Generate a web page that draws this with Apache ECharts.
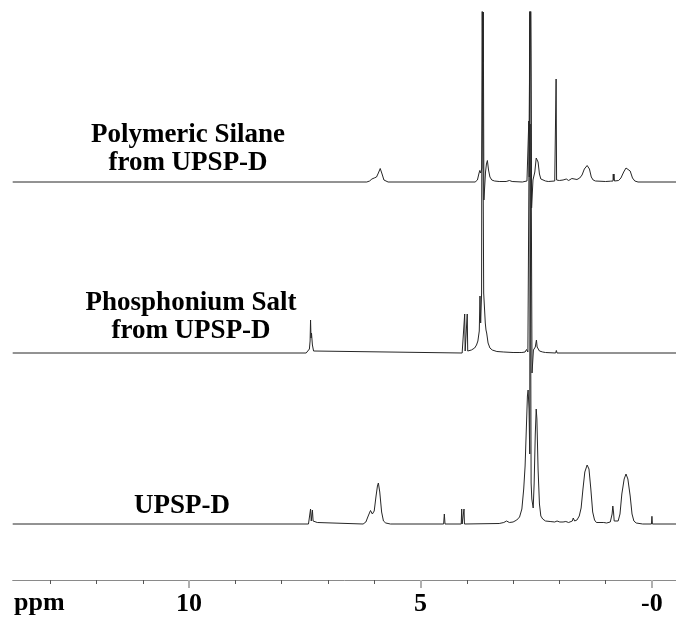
<!DOCTYPE html>
<html>
<head>
<meta charset="utf-8">
<script src="https://cdn.jsdelivr.net/npm/echarts@6/dist/echarts.min.js"></script>
<style>html,body{margin:0;padding:0;background:#fff;}#c{width:676px;height:617px;}</style>
</head>
<body>
<div id="c"></div>
<script>
// ---- data (ppm, intensity above own baseline) ----
const ppmRange = [-0.52, 13.81];
const majorTicks = [0, 5, 10];
const minorTicks = [1, 2, 3, 4, 6, 7, 8, 9, 11, 12, 13];
const tickLabels = {0: '-0', 5: '5', 10: '10'};
const axisUnit = 'ppm';
const traceNames = ['Polymeric Silane\nfrom UPSP-D', 'Phosphonium Salt\nfrom UPSP-D', 'UPSP-D'];

const silaneTrace = [
  [13.81,0],[6.16,0],[6.10,1],[6.05,3],[6.00,4],[5.95,5],[5.91,9],[5.87,13.5],[5.83,8],[5.79,2],[5.75,0.5],[5.70,0],
  [3.82,0],[3.77,2],[3.74,8],[3.72,11.5],[3.70,9],[3.675,14],[3.665,60],[3.655,170],[3.65,120],[3.643,170],[3.63,-18],[3.615,-18],
  [3.595,10],[3.575,18],[3.555,21.5],[3.53,12],[3.50,5],[3.46,2],[3.40,1],[3.30,0.5],[3.15,0.5],[3.08,1.5],[3.02,0.5],
  [2.80,0],[2.70,1],[2.67,3],[2.66,61],[2.65,5],[2.64,3],[2.632,400],[2.615,400],[2.60,-26],[2.585,-26],[2.57,2],
  [2.53,10],[2.50,24],[2.48,26],[2.46,20],[2.43,8],[2.40,3],[2.36,1],[2.30,1],[2.27,2.5],[2.24,0.5],[2.10,1],
  [2.075,2],[2.07,103],[2.06,2],[2.00,1.5],[1.92,2],[1.88,4],[1.85,3],[1.80,1.5],[1.76,2.5],[1.73,3.5],[1.70,2],
  [1.62,2.5],[1.56,4],[1.51,7],[1.46,13],[1.40,16.5],[1.35,13],[1.31,5],[1.27,2],[1.22,1],[1.00,0.5],[0.90,0.8],
  [0.84,1],[0.835,8],[0.83,2],[0.82,8],[0.81,1],[0.72,1.5],[0.67,4],[0.61,10],[0.56,14],[0.52,15],[0.47,11],
  [0.42,4],[0.37,1],[0.30,0],[-0.52,0]
];

const phosphoniumTrace = [
  [13.81,0],[7.47,0],[7.43,1],[7.40,4],[7.385,12],[7.375,33],[7.365,15],[7.355,20],[7.345,19],[7.335,8],[7.31,2],[7.28,0],
  [4.10,0],[4.06,1],[4.045,39],[4.035,2],[4.00,2],[3.99,39],[3.98,2],[3.90,3],[3.83,5],[3.79,8],[3.76,12],[3.73,22],
  [3.715,57],[3.70,30],[3.68,60],[3.668,400],[3.65,400],[3.635,60],[3.60,30],[3.585,23],[3.57,20],[3.54,10],[3.50,5],
  [3.45,3],[3.35,1.5],[3.20,1],[3.00,0.5],[2.87,0.5],[2.84,2.5],[2.81,0.5],[2.74,1],[2.71,3.5],[2.68,1],[2.64,2],
  [2.628,400],[2.607,400],[2.59,-20],[2.575,-20],[2.56,3],[2.52,6],[2.495,13],[2.48,6],[2.43,2],[2.39,3.5],[2.36,1],
  [2.33,2.5],[2.30,0.5],[2.08,0],[2.065,2.5],[2.05,0],[-0.52,0]
];

const upspTrace = [
  [13.81,0],[7.42,0],[7.39,2],[7.375,15],[7.36,3],[7.35,4],[7.335,14],[7.32,3],[7.30,1],[7.23,1.5],[7.20,0],
  [6.24,0],[6.18,2],[6.13,8],[6.08,13.5],[6.04,10],[6.00,13],[5.96,28],[5.93,38],[5.91,41],[5.88,32],[5.84,12],
  [5.80,3],[5.75,1],[5.65,0],[4.50,0],[4.485,10],[4.47,0],[4.12,0],[4.11,15],[4.10,0],[4.07,0],[4.06,15],[4.05,0],
  [3.30,0.5],[3.20,1.5],[3.14,3],[3.08,1.5],[3.00,2],[2.92,4],[2.86,7],[2.81,15],[2.77,35],[2.74,58],[2.71,100],
  [2.69,128],[2.675,134],[2.655,115],[2.64,70],[2.632,400],[2.618,400],[2.61,41],[2.595,25],[2.565,16],[2.545,40],
  [2.52,90],[2.50,115],[2.485,105],[2.46,55],[2.43,20],[2.40,8],[2.36,5],[2.30,3],[2.20,2.5],[2.10,2],[2.05,3],
  [2.02,4.5],[1.99,2],[1.92,2],[1.86,2.5],[1.80,1.5],[1.72,3],[1.70,6],[1.67,3],[1.62,4],[1.57,8],[1.53,16],
  [1.49,35],[1.45,52],[1.40,59],[1.36,55],[1.32,35],[1.28,12],[1.24,4],[1.20,1.5],[1.10,1.5],[1.06,2.5],[1.04,1.5],
  [1.02,2.5],[0.98,1],[0.90,2],[0.86,10],[0.845,18],[0.83,12],[0.815,3],[0.78,2],[0.73,3],[0.69,10],[0.65,30],
  [0.60,45],[0.56,50],[0.52,45],[0.47,28],[0.43,10],[0.39,3],[0.34,1],[0.20,0],[0.01,0],[0.0,7.7],[-0.01,0],[-0.52,0]
];

// ---- layout / stacking ----
const traces = [silaneTrace, phosphoniumTrace, upspTrace];
const stackOffsets = [398, 227, 56];
const FONT = '"Liberation Serif", "Times New Roman", serif';

const chart = echarts.init(document.getElementById('c'), null, {renderer: 'canvas'});
const series = traces.map((t, i) => ({
  type: 'line',
  xAxisIndex: 0,
  data: t.map(p => [p[0], p[1] + stackOffsets[i]]),
  showSymbol: false,
  symbol: 'none',
  clip: true,
  sampling: null,
  lineStyle: {color: '#262626', width: 1},
  silent: true
}));

const labelPos = [[188, 149], [191, 317.5], [182, 506]];
const graphics = traceNames.map((n, i) => ({
  type: 'text',
  x: labelPos[i][0], y: labelPos[i][1],
  style: {
    text: n, align: 'center', verticalAlign: 'middle',
    font: 'bold 27px ' + FONT, fill: '#000', lineHeight: 28
  }
}));

const option = {
  animation: false,
  backgroundColor: '#fff',
  grid: {left: 12.7, right: 0, top: 12, bottom: 37},
  xAxis: [
    {
      type: 'value', min: ppmRange[0], max: ppmRange[1], inverse: true,
      axisLine: {show: true, lineStyle: {color: '#8a8a8a', width: 1}},
      axisTick: {show: true, customValues: majorTicks, length: 8, lineStyle: {color: '#b0b0b0', width: 2}},
      axisLabel: {
        show: true, customValues: majorTicks, margin: 11,
        formatter: v => tickLabels[Math.round(v)] !== undefined ? tickLabels[Math.round(v)] : '',
        fontFamily: FONT, fontWeight: 'bold', fontSize: 26, color: '#000'
      },
      splitLine: {show: false}
    },
    {
      type: 'value', min: ppmRange[0], max: ppmRange[1], inverse: true, position: 'bottom',
      axisLine: {show: false},
      axisTick: {show: true, customValues: minorTicks, length: 4, lineStyle: {color: '#555', width: 1}},
      axisLabel: {show: false},
      splitLine: {show: false}
    }
  ],
  yAxis: {type: 'value', min: 0, max: 568, show: false},
  graphic: graphics.concat([{
    type: 'text', x: 14, y: 590,
    style: {text: axisUnit, font: 'bold 26px ' + FONT, fill: '#000'}
  }]),
  series: series
};
chart.setOption(option);
</script>
</body>
</html>
